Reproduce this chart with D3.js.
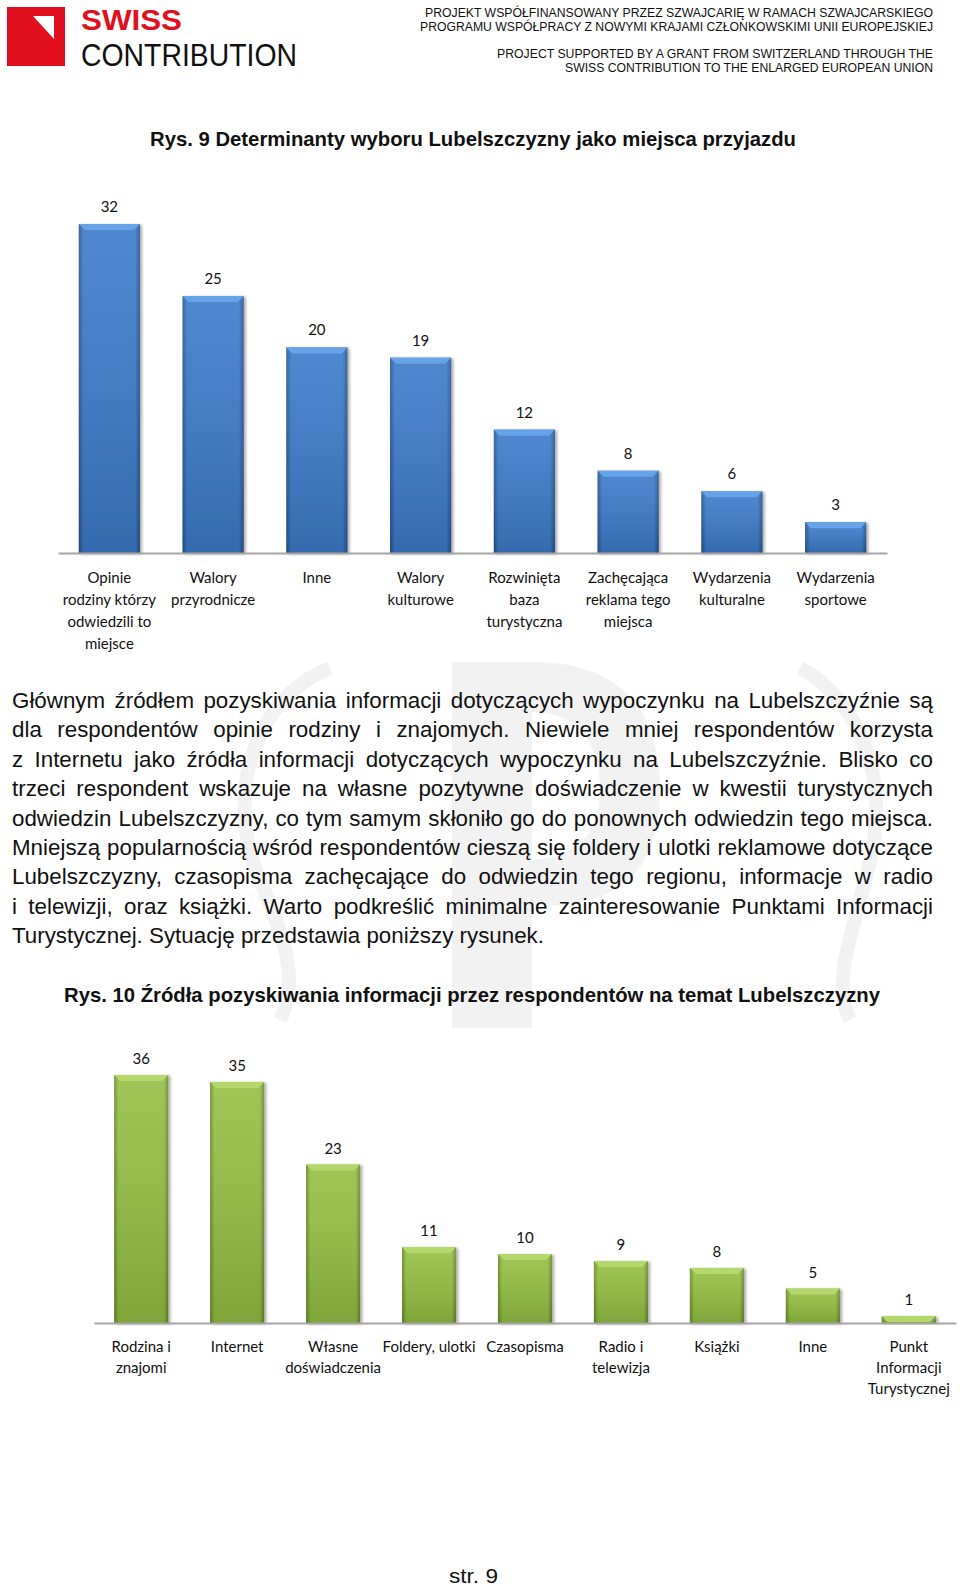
<!DOCTYPE html>
<html>
<head>
<meta charset="utf-8">
<script src="https://cdn.jsdelivr.net/npm/d3@7/dist/d3.min.js"></script>
<style>
  html, body { margin: 0; padding: 0; background: #fff; }
  svg { display: block; }
</style>
</head>
<body>
<svg id="page" width="960" height="1588"></svg>
<script>
// ---------- DATA ----------
const headerLines = [
  "PROJEKT WSPÓŁFINANSOWANY PRZEZ SZWAJCARIĘ W RAMACH SZWAJCARSKIEGO",
  "PROGRAMU WSPÓŁPRACY Z NOWYMI KRAJAMI CZŁONKOWSKIMI UNII EUROPEJSKIEJ",
  "PROJECT SUPPORTED BY A GRANT FROM SWITZERLAND THROUGH THE",
  "SWISS CONTRIBUTION TO THE ENLARGED EUROPEAN UNION"
];
const title1 = "Rys. 9 Determinanty wyboru Lubelszczyzny jako miejsca przyjazdu";
const categories1 = [
  ["Opinie", "rodziny którzy", "odwiedzili to", "miejsce"],
  ["Walory", "przyrodnicze"],
  ["Inne"],
  ["Walory", "kulturowe"],
  ["Rozwinięta", "baza", "turystyczna"],
  ["Zachęcająca", "reklama tego", "miejsca"],
  ["Wydarzenia", "kulturalne"],
  ["Wydarzenia", "sportowe"]
];
const values1 = [32, 25, 20, 19, 12, 8, 6, 3];

const paragraphLines = [
  "Głównym źródłem pozyskiwania informacji dotyczących wypoczynku na Lubelszczyźnie są",
  "dla respondentów opinie rodziny i znajomych. Niewiele mniej respondentów korzysta",
  "z Internetu jako źródła informacji dotyczących wypoczynku na Lubelszczyźnie. Blisko co",
  "trzeci respondent wskazuje na własne pozytywne doświadczenie w kwestii turystycznych",
  "odwiedzin Lubelszczyzny, co tym samym skłoniło go do ponownych odwiedzin tego miejsca.",
  "Mniejszą popularnością wśród respondentów cieszą się foldery i ulotki reklamowe dotyczące",
  "Lubelszczyzny, czasopisma zachęcające do odwiedzin tego regionu, informacje w radio",
  "i telewizji, oraz książki. Warto podkreślić minimalne zainteresowanie Punktami Informacji",
  "Turystycznej. Sytuację przedstawia poniższy rysunek."
];

const title2 = "Rys. 10 Źródła pozyskiwania informacji przez respondentów na temat Lubelszczyzny";
const categories2 = [
  ["Rodzina i", "znajomi"],
  ["Internet"],
  ["Własne", "doświadczenia"],
  ["Foldery, ulotki"],
  ["Czasopisma"],
  ["Radio i", "telewizja"],
  ["Książki"],
  ["Inne"],
  ["Punkt", "Informacji", "Turystycznej"]
];
const values2 = [36, 35, 23, 11, 10, 9, 8, 5, 1];
const footer = "str. 9";

// ---------- SETUP ----------
const svg = d3.select("#page");
const defs = svg.append("defs");

function makeBarGradients(id, edge, mid) {
  const gh = defs.append("linearGradient").attr("id", id + "H")
    .attr("x1", "0").attr("x2", "1").attr("y1", "0").attr("y2", "0");
  gh.append("stop").attr("offset", "0").attr("stop-color", edge);
  gh.append("stop").attr("offset", "0.08").attr("stop-color", mid);
  gh.append("stop").attr("offset", "0.92").attr("stop-color", mid);
  gh.append("stop").attr("offset", "1").attr("stop-color", edge);
  const gv = defs.append("linearGradient").attr("id", id + "V")
    .attr("x1", "0").attr("x2", "0").attr("y1", "0").attr("y2", "1");
  gv.append("stop").attr("offset", "0").attr("stop-color", "#fff").attr("stop-opacity", 0.1);
  gv.append("stop").attr("offset", "1").attr("stop-color", "#000").attr("stop-opacity", 0.14);
}
makeBarGradients("blue", "#285490", "#3d7bcb");
makeBarGradients("green", "#668a2b", "#94c043");

const shadow = defs.append("filter").attr("id", "shadow")
  .attr("x", "-20%").attr("y", "-10%").attr("width", "150%").attr("height", "130%");
shadow.append("feDropShadow").attr("dx", 2).attr("dy", 1).attr("stdDeviation", 1.5)
  .attr("flood-color", "#000").attr("flood-opacity", 0.35);

// ---------- WATERMARK (faint) ----------
const wm = svg.append("g").attr("fill", "#f2f2f2").attr("stroke", "none");
wm.append("rect").attr("x", 452).attr("y", 662).attr("width", 80).attr("height", 366);
wm.append("path").attr("d", "M532,662 C630,662 660,720 660,790 C660,860 630,900 560,905 L532,905 L532,860 C580,858 600,830 600,790 C600,745 580,712 532,712 Z");
wm.append("path").attr("fill", "none").attr("stroke", "#f2f2f2").attr("stroke-width", 14)
  .attr("d", "M330,668 C250,700 225,800 260,880 C285,940 300,980 280,1020");
wm.append("path").attr("fill", "none").attr("stroke", "#f2f2f2").attr("stroke-width", 14)
  .attr("d", "M800,668 C860,700 890,780 870,860 C855,930 830,980 850,1020");

// ---------- HEADER ----------
svg.append("rect").attr("x", 7).attr("y", 7).attr("width", 58).attr("height", 59).attr("fill", "#e2101e");
svg.append("path").attr("d", "M33,16 L54,16 L54,39 Z").attr("fill", "#fff");
svg.append("text").attr("x", 81).attr("y", 30)
  .attr("font-family", "Liberation Sans, Arial, sans-serif").attr("font-weight", "bold")
  .attr("font-size", 30).attr("fill", "#e2101e")
  .attr("textLength", 101).attr("lengthAdjust", "spacingAndGlyphs").text("SWISS");
svg.append("text").attr("x", 81).attr("y", 66)
  .attr("font-family", "Liberation Sans, Arial, sans-serif")
  .attr("font-size", 32).attr("fill", "#111")
  .attr("textLength", 216).attr("lengthAdjust", "spacingAndGlyphs").text("CONTRIBUTION");

const headerY = [16.5, 30.5, 57.5, 72];
const headerW = [508, 513, 436, 368];
headerLines.forEach((t, i) => {
  svg.append("text").attr("x", 933).attr("y", headerY[i]).attr("text-anchor", "end")
    .attr("font-family", "Liberation Sans, Arial, sans-serif").attr("font-size", 12)
    .attr("fill", "#111")
    .attr("textLength", headerW[i]).attr("lengthAdjust", "spacingAndGlyphs").text(t);
});

// ---------- CHART DRAWING ----------
function drawChart(cfg) {
  const keys = cfg.categories.map(c => c.join(" "));
  const x = d3.scaleBand().domain(keys).range(cfg.xRange)
    .paddingInner(cfg.padIn).paddingOuter(cfg.padOut);
  const y = d3.scaleLinear().domain([0, cfg.yMax]).range([cfg.base, cfg.yTop]);
  const g = svg.append("g");
  const data = keys.map((k, i) => ({ key: k, lines: cfg.categories[i], v: cfg.values[i] }));

  const bars = g.selectAll("g.bar").data(data).join("g").attr("class", "bar")
    .attr("filter", "url(#shadow)");
  bars.append("rect")
    .attr("x", d => x(d.key)).attr("y", d => y(d.v))
    .attr("width", x.bandwidth()).attr("height", d => y(0) - y(d.v))
    .attr("fill", `url(#${cfg.color}H)`);
  bars.append("rect")
    .attr("x", d => x(d.key)).attr("y", d => y(d.v))
    .attr("width", x.bandwidth()).attr("height", d => y(0) - y(d.v))
    .attr("fill", `url(#${cfg.color}V)`);
  const bev = 6;
  g.selectAll("path.bevel").data(data).join("path").attr("class", "bevel")
    .attr("d", d => {
      const x0 = x(d.key), x1 = x0 + x.bandwidth(), t = y(d.v);
      return `M${x0},${t} L${x1},${t} L${x1 - bev},${t + bev} L${x0 + bev},${t + bev} Z`;
    })
    .attr("fill", cfg.light);

  g.selectAll("text.val").data(data).join("text").attr("class", "val")
    .attr("x", d => x(d.key) + x.bandwidth() / 2)
    .attr("y", d => y(d.v) - cfg.labelGap)
    .attr("text-anchor", "middle")
    .attr("font-family", "Lato, 'Open Sans', sans-serif").attr("font-size", 15)
    .attr("fill", "#111").text(d => d.v);

  const axis = d3.axisBottom(x).tickSize(0).tickSizeOuter(0).tickFormat("");
  const ag = g.append("g").attr("transform", `translate(0,${cfg.base})`).call(axis);
  ag.select(".domain").attr("stroke", "#a6a6a6").attr("stroke-width", 2);
  ag.selectAll(".tick").each(function (k) {
    const lines = data.find(d => d.key === k).lines;
    const t = d3.select(this).append("text")
      .attr("fill", "#111").attr("text-anchor", "middle")
      .attr("font-family", "Lato, 'Open Sans', sans-serif").attr("font-size", 15);
    lines.forEach((ln, i) => {
      t.append("tspan").attr("x", 0).attr("y", cfg.labelFirst + i * cfg.labelStep).text(ln);
    });
  });
}

// Title 1
svg.append("text").attr("x", 473).attr("y", 146).attr("text-anchor", "middle")
  .attr("font-family", "Liberation Sans, Arial, sans-serif").attr("font-weight", "bold")
  .attr("font-size", 21).attr("fill", "#111")
  .attr("textLength", 646).attr("lengthAdjust", "spacingAndGlyphs").text(title1);

drawChart({
  categories: categories1, values: values1,
  xRange: [58, 887], padIn: 0.41, padOut: 0.2,
  yMax: 32, base: 553, yTop: 224,
  color: "blue", light: "#66a3e8",
  labelGap: 12, labelFirst: 30, labelStep: 22
});

// ---------- PARAGRAPH (justified) ----------
const paraFont = 22;
const paraG = svg.append("g").attr("font-family", "Liberation Sans, Arial, sans-serif")
  .attr("font-size", paraFont).attr("fill", "#111");
const paraLeft = 12, paraRight = 933, paraY0 = 708, paraStep = 29.4;
const probe = paraG.append("text").text(paragraphLines[paragraphLines.length - 1]);
const kx = 532 / probe.node().getComputedTextLength();
probe.remove();
const measure = s => {
  const t = paraG.append("text").text(s);
  const w = t.node().getComputedTextLength();
  t.remove();
  return w;
};
const spaceW = (measure("a a") - measure("aa")) * kx;

paragraphLines.forEach((line, li) => {
  const yy = paraY0 + li * paraStep;
  const words = line.split(" ");
  const isLast = li === paragraphLines.length - 1;
  const widths = words.map(w => measure(w) * kx);
  const total = d3.sum(widths);
  let gap = isLast ? spaceW : (paraRight - paraLeft - total) / (words.length - 1);
  if (!isLast && gap < spaceW * 0.5) gap = spaceW * 0.5;
  let cx = paraLeft;
  words.forEach((w, i) => {
    paraG.append("text").attr("x", cx).attr("y", yy)
      .attr("textLength", widths[i]).attr("lengthAdjust", "spacingAndGlyphs").text(w);
    cx += widths[i] + gap;
  });
});

// Title 2
svg.append("text").attr("x", 472).attr("y", 1002).attr("text-anchor", "middle")
  .attr("font-family", "Liberation Sans, Arial, sans-serif").attr("font-weight", "bold")
  .attr("font-size", 21).attr("fill", "#111")
  .attr("textLength", 816).attr("lengthAdjust", "spacingAndGlyphs").text(title2);

drawChart({
  categories: categories2, values: values2,
  xRange: [94, 956], padIn: 0.436, padOut: 0.21,
  yMax: 36, base: 1323, yTop: 1075,
  color: "green", light: "#b4d86c",
  labelGap: 11, labelFirst: 29, labelStep: 21
});

// footer
svg.append("text").attr("x", 449).attr("y", 1583)
  .attr("font-family", "Liberation Sans, Arial, sans-serif").attr("font-size", 21)
  .attr("fill", "#111").attr("textLength", 49).attr("lengthAdjust", "spacingAndGlyphs")
  .text(footer);
</script>
</body>
</html>
